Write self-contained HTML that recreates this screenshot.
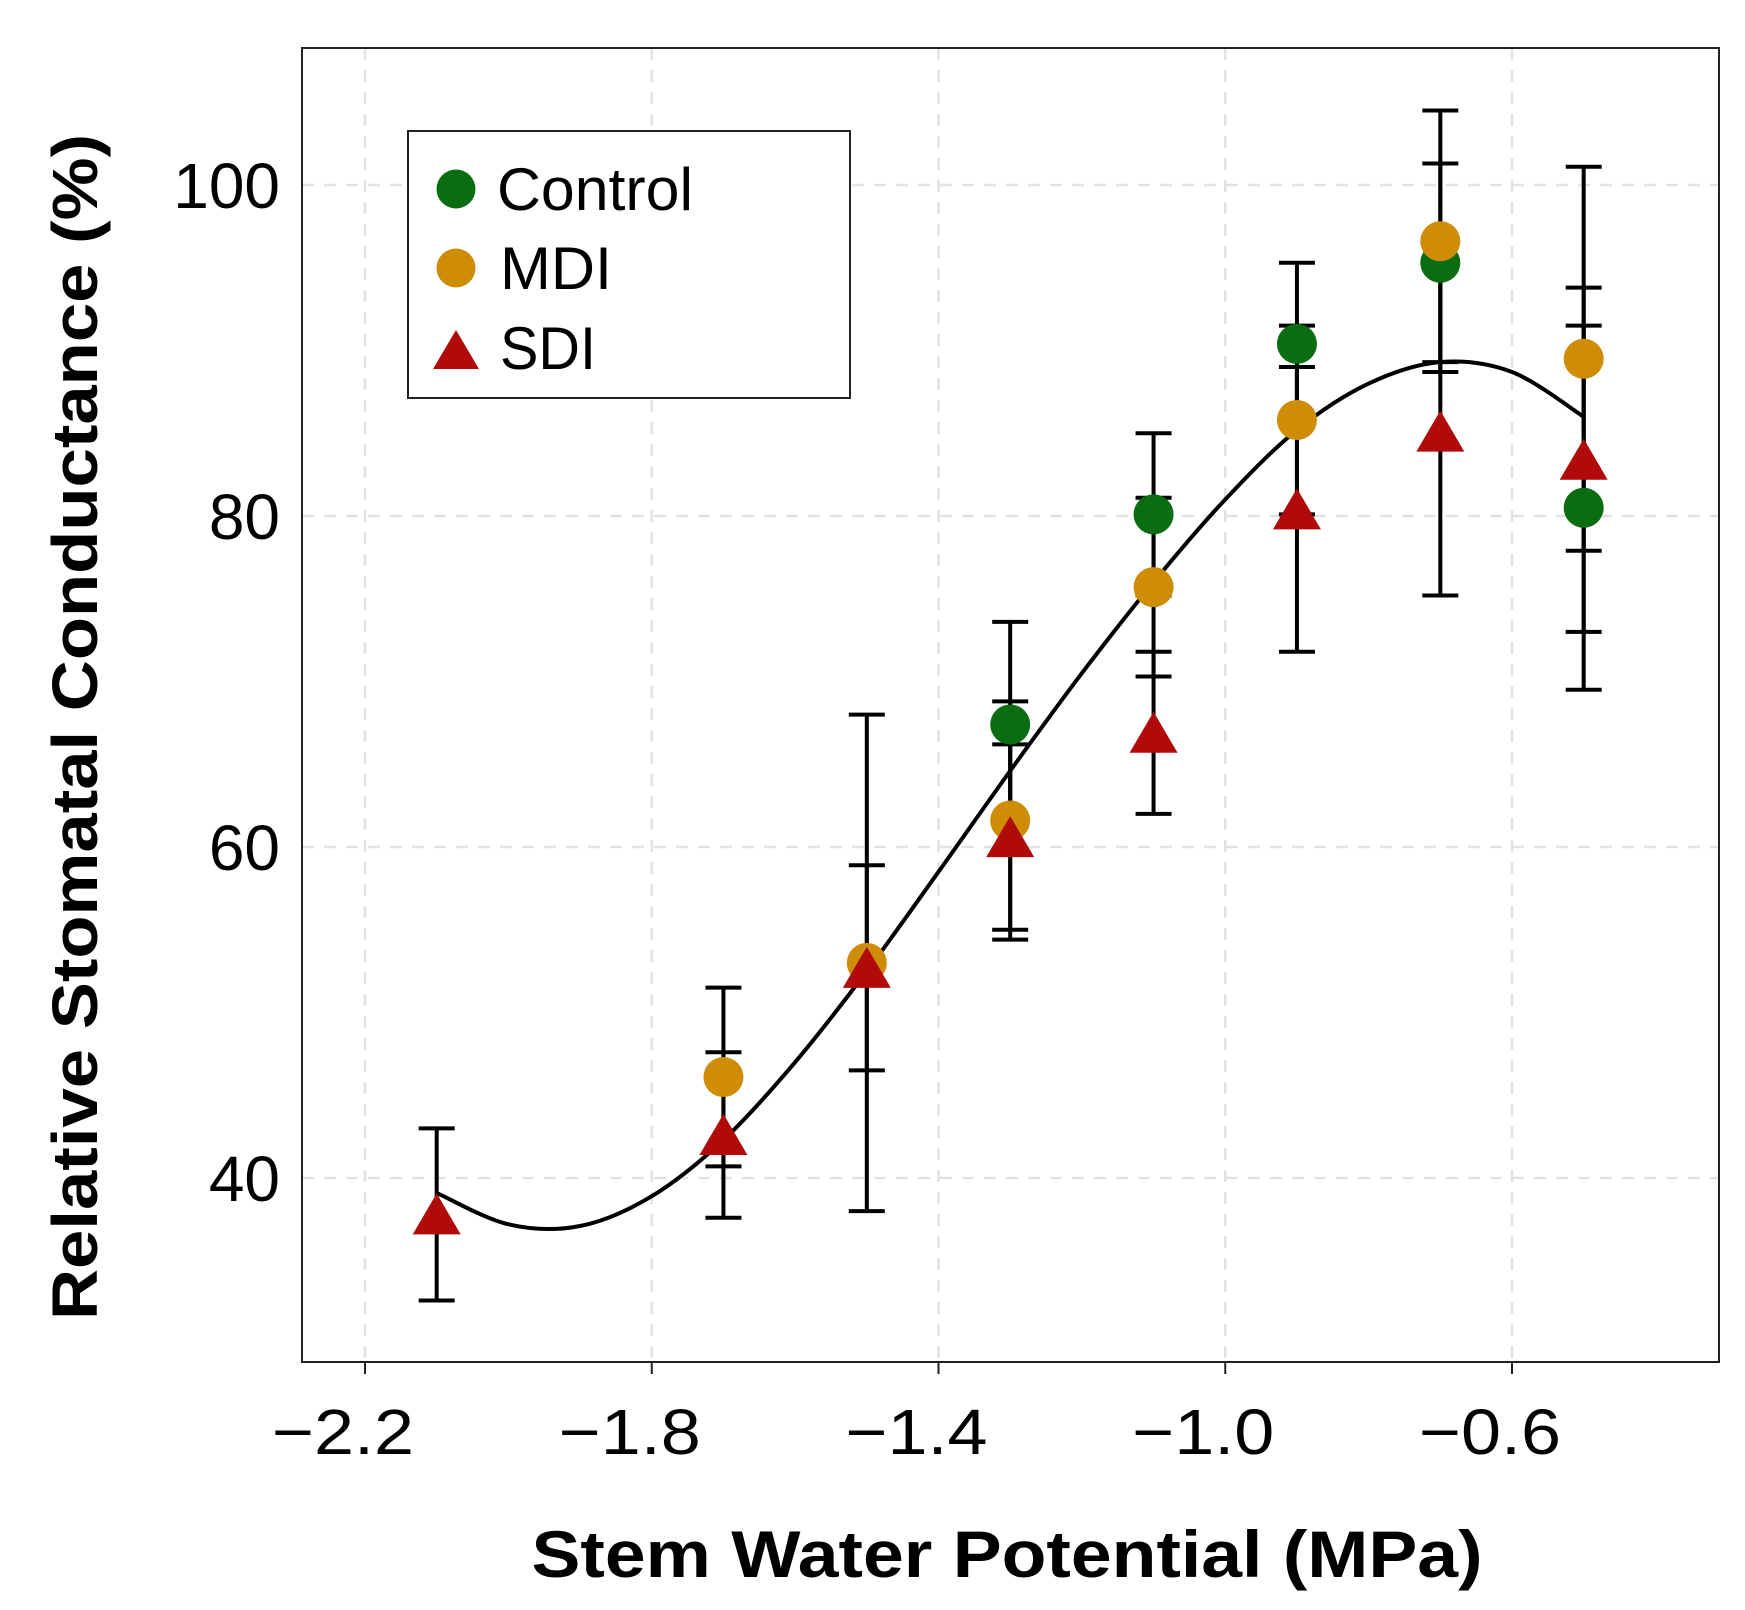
<!DOCTYPE html>
<html><head><meta charset="utf-8"><style>
html,body{margin:0;padding:0;background:#fff;}
svg{display:block;font-family:"Liberation Sans",sans-serif;}
</style></head><body>
<svg id="chart" width="1745" height="1610" viewBox="0 0 1745 1610">
<rect x="0" y="0" width="1745" height="1610" fill="#fff"/>
<g id="grid"></g>
<g id="curve"></g>
<g id="marks"></g>
<rect x="302" y="48" width="1417" height="1314" fill="none" stroke="#222" stroke-width="2"/>
<g id="axes"></g>
<g>
<rect x="408" y="131" width="442" height="267" fill="#fff" stroke="#222" stroke-width="2"/>
<circle cx="456" cy="189" r="19.5" fill="#0b6d12"/>
<text x="497" y="210" font-size="60" textLength="196" lengthAdjust="spacingAndGlyphs">Control</text>
<circle cx="456" cy="268" r="19.5" fill="#cf8c05"/>
<text x="500" y="289" font-size="60" textLength="112" lengthAdjust="spacingAndGlyphs">MDI</text>
<polygon points="433,369 479,369 456,330" fill="#b00a0a"/>
<text x="500" y="369" font-size="60" textLength="96" lengthAdjust="spacingAndGlyphs">SDI</text>
</g>
<text x="1007" y="1577" font-size="66" font-weight="bold" text-anchor="middle" textLength="951" lengthAdjust="spacingAndGlyphs">Stem Water Potential (MPa)</text>
<text transform="translate(97,727) rotate(-90)" font-size="64" font-weight="bold" text-anchor="middle" textLength="1186" lengthAdjust="spacingAndGlyphs">Relative Stomatal Conductance (%)</text>
</svg>
<script>
const xTicks = [-2.2, -1.8, -1.4, -1.0, -0.6];
const xTickLabels = ["\u22122.2", "\u22121.8", "\u22121.4", "\u22121.0", "\u22120.6"];
const yTicks = [40, 60, 80, 100];
const yTickLabels = ["40", "60", "80", "100"];
const controlX = [-1.3, -1.1, -0.9, -0.7, -0.5];
const controlY = [67.4, 80.1, 90.4, 95.3, 80.5];
const controlErr = [6.2, 4.9, 4.9, 6.0, 11.0];
const mdiX = [-1.7, -1.5, -1.3, -1.1, -0.9, -0.7, -0.5];
const mdiY = [46.1, 53.0, 61.6, 75.7, 85.8, 96.6, 89.5];
const mdiErr = [5.4, 15.0, 7.2, 5.4, 5.7, 7.9, 11.6];
const sdiX = [-2.1, -1.7, -1.5, -1.3, -1.1, -0.9, -0.7, -0.5];
const sdiY = [37.8, 42.6, 52.7, 60.6, 66.9, 80.4, 85.1, 83.4];
const sdiErr = [5.2, 5.0, 6.2, 5.6, 4.9, 8.6, 9.9, 10.4];
const curveX = [-2.1, -2.0, -1.9, -1.8, -1.7, -1.6, -1.5, -1.4, -1.3, -1.2, -1.1, -1.0, -0.9, -0.8, -0.7, -0.6, -0.5];
const curveY = [39.1, 37.2, 37.1, 38.9, 42.3, 47.0, 52.5, 58.5, 64.6, 70.5, 76.0, 81.0, 85.2, 88.0, 89.3, 88.7, 86.0];

const NS = "http://www.w3.org/2000/svg";
function sx(v){ return 365 + (v + 2.2) / 0.4 * 286.75; }
function sy(v){ return 185 + (100 - v) / 20 * 331; }
function mk(tag, attrs, parent){
  const e = document.createElementNS(NS, tag);
  for (const k in attrs) e.setAttribute(k, attrs[k]);
  parent.appendChild(e);
  return e;
}
const grid = document.getElementById("grid");
const axes = document.getElementById("axes");
const curveG = document.getElementById("curve");
const marks = document.getElementById("marks");

xTicks.forEach(v => {
  const l = mk("line", {x1: sx(v), x2: sx(v), y1: 48, y2: 1362, stroke: "#e2e2e2", "stroke-width": 2.5, "stroke-dasharray": "12,10"}, grid);
  
  
});
yTicks.forEach(v => {
  const l = mk("line", {x1: 302, x2: 1719, y1: sy(v), y2: sy(v), stroke: "#e2e2e2", "stroke-width": 2.5, "stroke-dasharray": "12,10"}, grid);
  
  
});
xTicks.forEach((v, i) => {
  const t = mk("line", {x1: sx(v), x2: sx(v), y1: 1362, y2: 1374, stroke: "#222", "stroke-width": 2}, axes);
  
  
  const tx = mk("text", {x: sx(v) - 22, y: 1454, "font-size": 64, "text-anchor": "middle", textLength: 142, lengthAdjust: "spacingAndGlyphs"}, axes);
  tx.textContent = xTickLabels[i];
  
  
});
yTicks.forEach((v, i) => {
  const tx = mk("text", {x: 280, y: sy(v) + 23, "font-size": 64, "text-anchor": "end"}, axes);
  tx.textContent = yTickLabels[i];
  
  
});

let pts = curveX.map((x, i) => [sx(x), sy(curveY[i])]);
let d = "M" + pts[0][0] + "," + pts[0][1];
for (let i = 0; i < pts.length - 1; i++) {
  const p0 = pts[Math.max(0, i - 1)], p1 = pts[i], p2 = pts[i + 1], p3 = pts[Math.min(pts.length - 1, i + 2)];
  const c1 = [p1[0] + (p2[0] - p0[0]) / 6, p1[1] + (p2[1] - p0[1]) / 6];
  const c2 = [p2[0] - (p3[0] - p1[0]) / 6, p2[1] - (p3[1] - p1[1]) / 6];
  d += " C" + c1[0] + "," + c1[1] + " " + c2[0] + "," + c2[1] + " " + p2[0] + "," + p2[1];
}
const cp = mk("path", {d: d, fill: "none", stroke: "#000", "stroke-width": 4}, curveG);



function errbars(xs, ys, es, name){
  xs.forEach((x, i) => {
    const X = sx(x), t = sy(ys[i] + es[i]), b = sy(ys[i] - es[i]);
    const g = mk("path", {d: `M${X},${t}V${b}M${X-18},${t}H${X+18}M${X-18},${b}H${X+18}`, stroke: "#000", "stroke-width": 4, fill: "none"}, marks);
    
    
  });
}
errbars(sdiX, sdiY, sdiErr, 'sdi');
errbars(mdiX, mdiY, mdiErr, 'mdi');
errbars(controlX, controlY, controlErr, 'control');

controlX.forEach((x, i) => {
  const c = mk("circle", {cx: sx(x), cy: sy(controlY[i]), r: 20, fill: "#0b6d12"}, marks);
  
  
});
mdiX.forEach((x, i) => {
  const c = mk("circle", {cx: sx(x), cy: sy(mdiY[i]), r: 20, fill: "#cf8c05"}, marks);
  
  
});
sdiX.forEach((x, i) => {
  const X = sx(x), Y = sy(sdiY[i]);
  const p = mk("polygon", {points: `${X-24},${Y+20} ${X+24},${Y+20} ${X},${Y-21}`, fill: "#b00a0a"}, marks);
  
  
});
</script>
</body></html>
